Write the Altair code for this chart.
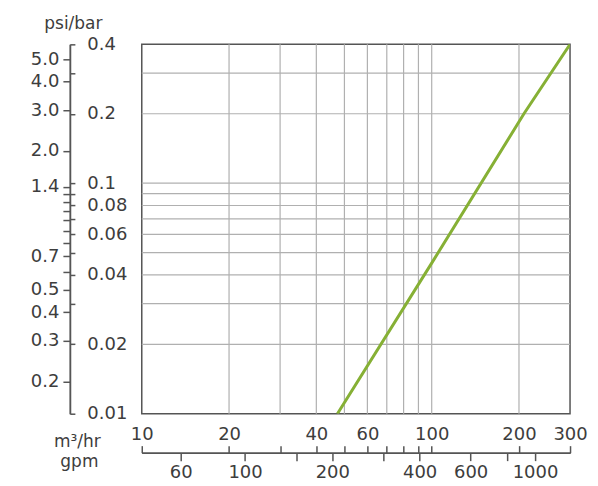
import altair as alt
import pandas as pd

# Pressure-drop curve (m3/hr vs bar)
flow_m3h = [47.3, 100, 208, 300]
drop_bar = [0.01, 0.045, 0.2, 0.4]

# grid lines
grid_x = [20, 30, 40, 50, 60, 70, 80, 90, 100, 200]
grid_y = [0.02, 0.03, 0.04, 0.05, 0.06, 0.07, 0.08, 0.09, 0.1, 0.2, 0.3]

# axis ticks / labels
m3h_ticks = [10, 20, 30, 40, 50, 60, 70, 80, 90, 100, 200, 300]
m3h_labels = [10, 20, 40, 60, 100, 200, 300]
gpm_ticks = [60, 100, 150, 200, 300, 400, 600, 800, 1000]
gpm_labels = [60, 100, 200, 400, 600, 1000]
bar_ticks = [0.01, 0.02, 0.03, 0.04, 0.05, 0.06, 0.07, 0.08, 0.09, 0.1, 0.2, 0.3, 0.4]
bar_labels = [0.01, 0.02, 0.04, 0.06, 0.08, 0.1, 0.2, 0.4]
psi_ticks = [0.2, 0.3, 0.4, 0.5, 0.6, 0.7, 0.8, 0.9, 1.0, 1.1, 1.2, 1.3, 1.4, 2.0, 3.0, 4.0, 5.0]
psi_labels = [0.2, 0.3, 0.4, 0.5, 0.7, 1.4, 2.0, 3.0, 4.0, 5.0]

GPM_PER_M3H = 4.403
PSI_PER_BAR = 14.5
X_DOMAIN = [10, 300]
Y_DOMAIN = [0.01, 0.4]

FONT = "DejaVu Sans"
TEXT = "#3d3d3d"
AXIS = "#555555"
GRID = "#b0b0b0"
GREEN = "#86b035"


def only(vals):
    return "indexof([" + ",".join(str(v) for v in vals) + "], datum.value) >= 0 ? datum.label : ''"


xs = alt.Scale(type="log", domain=X_DOMAIN, nice=False)
ys = alt.Scale(type="log", domain=Y_DOMAIN, nice=False)

curve = pd.DataFrame({"q": flow_m3h, "dp": drop_bar})
gx = pd.DataFrame({"q": grid_x})
gy = pd.DataFrame({"dp": grid_y})
conv = pd.DataFrame({
    "gpm": [X_DOMAIN[0] * GPM_PER_M3H, X_DOMAIN[1] * GPM_PER_M3H],
    "psi": [Y_DOMAIN[0] * PSI_PER_BAR, Y_DOMAIN[1] * PSI_PER_BAR],
})

vgrid = alt.Chart(gx).mark_rule(color=GRID, strokeWidth=1.2).encode(
    x=alt.X("q:Q", scale=xs, axis=None)
)
hgrid = alt.Chart(gy).mark_rule(color=GRID, strokeWidth=1.2).encode(
    y=alt.Y("dp:Q", scale=ys, axis=None)
)

line = alt.Chart(curve).mark_line(color=GREEN, strokeWidth=3, clip=True).encode(
    x=alt.X("q:Q", scale=xs, axis=alt.Axis(
        orient="top", offset=-409, values=m3h_ticks, labelExpr=only(m3h_labels),
        format="~g", tickSize=7, labelPadding=2, grid=False,
        title="m³/hr", titleAngle=0, titleX=-65, titleY=-6,
        titleAlign="center", titleBaseline="alphabetic")),
    y=alt.Y("dp:Q", scale=ys, axis=alt.Axis(
        orient="right", offset=-501, values=bar_ticks, labelExpr=only(bar_labels),
        format="~g", tickSize=5, labelPadding=12, grid=False, title=None)),
)

conv_layer = alt.Chart(conv).mark_point(opacity=0).encode(
    x=alt.X("gpm:Q", scale=alt.Scale(type="log", domain=conv["gpm"].tolist(), nice=False),
            axis=alt.Axis(orient="bottom", offset=39, values=gpm_ticks,
                          labelExpr=only(gpm_labels), format="~g", tickSize=8,
                          labelPadding=3, grid=False,
                          title="gpm", titleAngle=0, titleX=-63, titleY=14,
                          titleAlign="center", titleBaseline="alphabetic")),
    y=alt.Y("psi:Q", scale=alt.Scale(type="log", domain=conv["psi"].tolist(), nice=False),
            axis=alt.Axis(orient="left", offset=72, values=psi_ticks,
                          labelExpr=only(psi_labels), format=".1f", tickSize=7,
                          labelPadding=4, grid=False,
                          title="psi/bar", titleAngle=0, titleX=3, titleY=-16,
                          titleAlign="center", titleBaseline="alphabetic")),
)

chart = alt.layer(vgrid, hgrid, line, conv_layer).resolve_scale(
    x="independent", y="independent"
).properties(
    width=429, height=370,
    autosize=alt.AutoSizeParams(type="none"),
    padding={"left": 134, "top": 36, "right": 20, "bottom": 69},
).configure_view(
    stroke=AXIS, strokeWidth=1.5
).configure_axis(
    labelFont=FONT, titleFont=FONT, labelFontSize=18, titleFontSize=17,
    labelColor=TEXT, titleColor=TEXT, titleFontWeight="normal",
    domainColor=AXIS, tickColor=AXIS, domainWidth=1.5, tickWidth=1.5,
    labelOverlap=False, labelFlush=False, labelBound=False,
)

chart.save("out.html", embed_options={"renderer": "svg", "actions": False})
